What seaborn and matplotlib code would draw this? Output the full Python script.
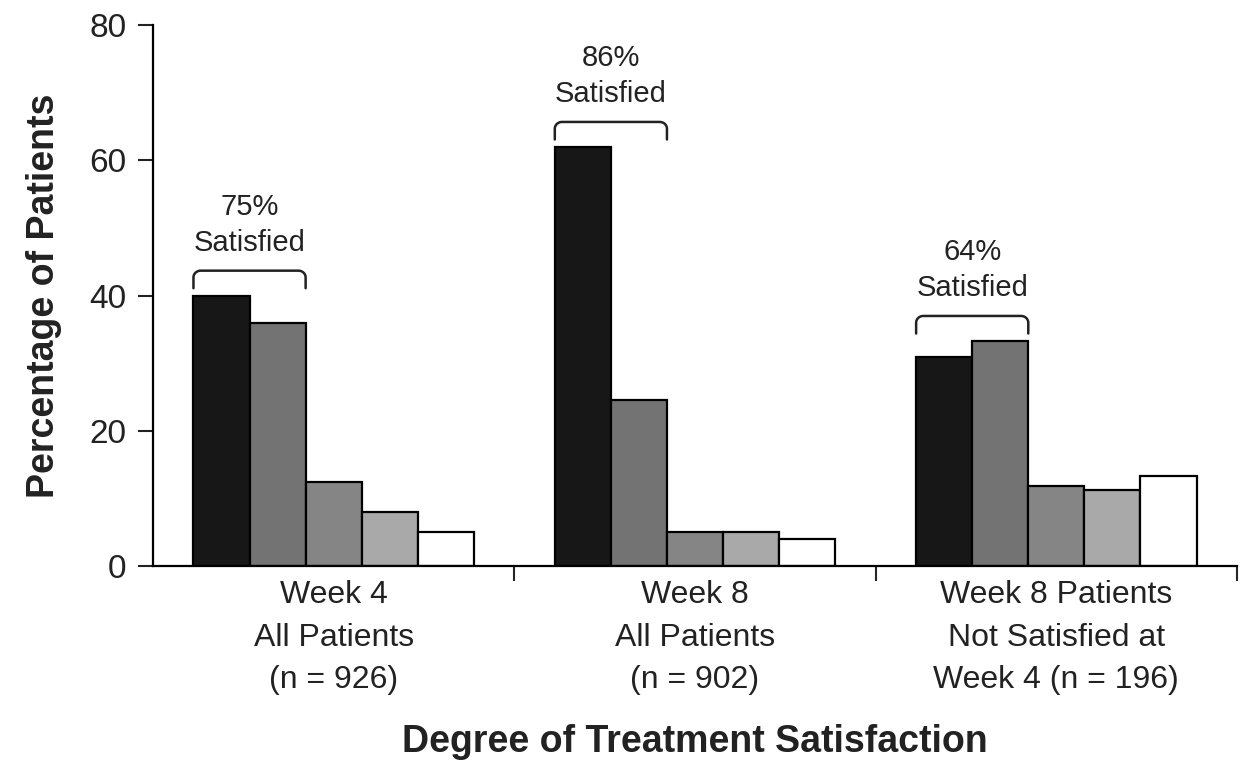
import numpy as np
import pandas as pd
import matplotlib
matplotlib.use('Agg')
import matplotlib.pyplot as plt
import seaborn as sns

# data
groups = ['Week 4\nAll Patients\n(n = 926)',
          'Week 8\nAll Patients\n(n = 902)',
          'Week 8 Patients\nNot Satisfied at\nWeek 4 (n = 196)']
levels = ['L1', 'L2', 'L3', 'L4', 'L5']
week4_all = [40, 36, 12.5, 8, 5]
week8_all = [62, 24.5, 5, 5, 4]
week8_notsat = [31, 33.3, 11.8, 11.3, 13.3]
satisfied = ['75%\nSatisfied', '86%\nSatisfied', '64%\nSatisfied']
bar_colors = ['#171717', '#737373', '#858585', '#a9a9a9', '#ffffff']

rows = []
for g, vals in zip(groups, [week4_all, week8_all, week8_notsat]):
    for lv, v in zip(levels, vals):
        rows.append({'group': g, 'level': lv, 'pct': v})
df = pd.DataFrame(rows)

sns.set_style('white')
plt.rcParams['font.family'] = ['Liberation Sans', 'DejaVu Sans']

fig = plt.figure(figsize=(12.51, 7.66), dpi=100)
ax = fig.add_axes([0.1223, 0.261, 0.8665, 0.706])

sns.barplot(data=df, x='group', y='pct', hue='level', hue_order=levels,
            order=groups, palette=bar_colors, width=0.776, gap=0,
            edgecolor='black', linewidth=1.6, saturation=1, legend=False, ax=ax)

ax.set_xlim(-0.5, 2.5)
ax.set_ylim(0, 80)
ax.set_yticks([0, 20, 40, 60, 80])
ax.tick_params(axis='y', labelsize=24, length=11, width=1.5, direction='out',
               left=True, pad=8, colors='#222222')
ax.tick_params(axis='x', which='major', length=0, labelsize=23, pad=10,
               labelcolor='#222222')
ax.set_xticks([0.5, 1.5, 2.5], minor=True)
ax.tick_params(axis='x', which='minor', length=11, width=1.5, direction='out',
               bottom=True)
for lab in ax.get_xticklabels():
    lab.set_linespacing(1.55)

for side in ['top', 'right']:
    ax.spines[side].set_visible(False)
for side in ['left', 'bottom']:
    ax.spines[side].set_linewidth(1.6)
    ax.spines[side].set_color('black')

ax.set_ylabel('Percentage of Patients', fontsize=27, fontweight='bold',
              labelpad=20, color='#222222')
ax.set_xlabel('Degree of Treatment Satisfaction', fontsize=27,
              fontweight='bold', labelpad=21, color='#222222')

# brackets over the first two bars of each group
bars = sorted(ax.patches, key=lambda p: p.get_x())
bars = [b for b in bars if b.get_height() > 0]
per_group = {}
for b in bars:
    gi = int(round(b.get_x() + b.get_width() / 2))
    per_group.setdefault(gi, []).append(b)

rx, ry = 0.02, 1.0
t = np.linspace(0, np.pi / 2, 20)
for gi, txt in enumerate(satisfied):
    gb = sorted(per_group[gi], key=lambda p: p.get_x())
    x0 = gb[0].get_x()
    x1 = gb[1].get_x() + gb[1].get_width()
    top = max(gb[0].get_height(), gb[1].get_height()) + 3.7
    leg = top - 2.6
    xs = np.concatenate([[x0], x0 + rx - rx * np.cos(t), x1 - rx + rx * np.cos(t[::-1]), [x1]])
    ys = np.concatenate([[leg], top - ry + ry * np.sin(t), top - ry + ry * np.sin(t[::-1]), [leg]])
    ax.plot(xs, ys, color='#222222', lw=1.8, solid_capstyle='round')
    ax.text((x0 + x1) / 2, top + 2.0, txt, ha='center', va='bottom',
            fontsize=21, linespacing=1.38, color='#222222')

fig.savefig('out.png', dpi=100)
